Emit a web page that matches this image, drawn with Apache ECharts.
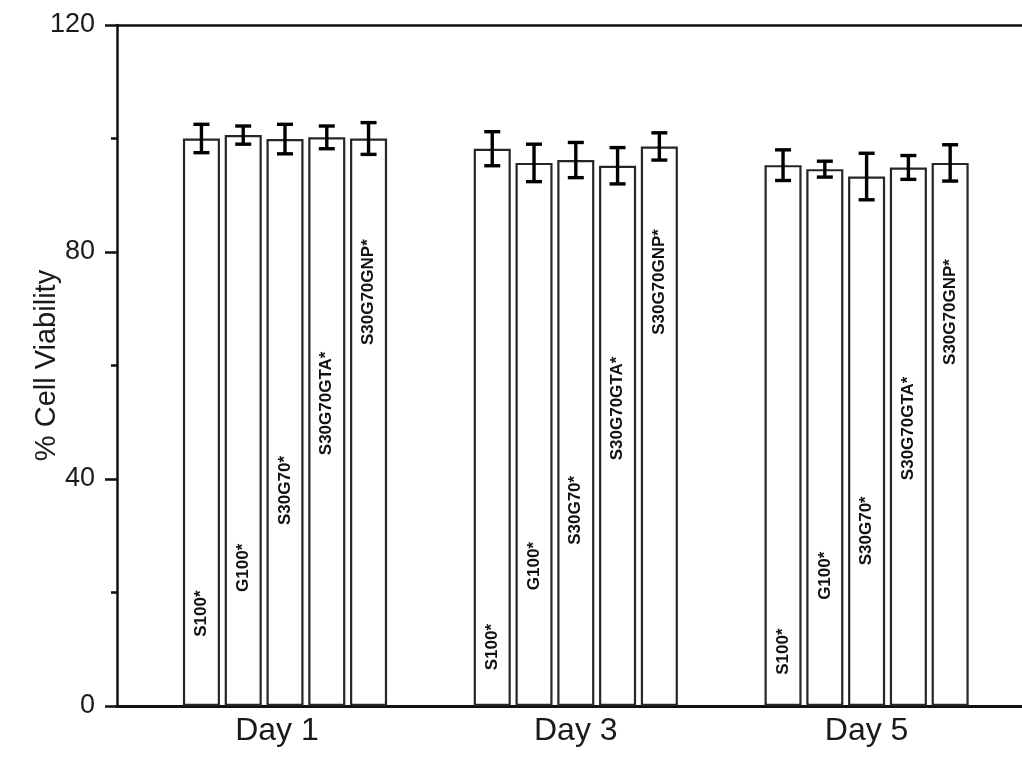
<!DOCTYPE html>
<html>
<head>
<meta charset="utf-8">
<title>% Cell Viability</title>
<script src="https://cdn.jsdelivr.net/npm/echarts@6/dist/echarts.min.js"></script>
<style>
  html, body { margin: 0; padding: 0; background: #ffffff; }
  #chart { width: 1022px; height: 762px; }
</style>
</head>
<body>
<div id="chart"></div>
<script>
// Sampling days (x categories)
const days = ['Day 1', 'Day 3', 'Day 5'];
// Scaffold formulations, one bar per formulation in each day group
const materials = ['S100*', 'G100*', 'S30G70*', 'S30G70GTA*', 'S30G70GNP*'];

// Mean % cell viability per formulation, listed Day 1, Day 3, Day 5
const s100Mean = [100.0, 98.2, 95.3];
const g100Mean = [100.6, 95.7, 94.6];
const s30g70Mean = [99.9, 96.2, 93.3];
const gtaMean = [100.2, 95.2, 94.9];
const gnpMean = [100.0, 98.6, 95.7];

// Standard deviations (error bars), same order
const s100Sd = [2.5, 3.0, 2.7];
const g100Sd = [1.6, 3.3, 1.4];
const s30g70Sd = [2.6, 3.1, 4.1];
const gtaSd = [2.0, 3.2, 2.1];
const gnpSd = [2.8, 2.4, 3.2];

// Y axis tick values
const yTicks = [0, 40, 80, 120];

const means = [s100Mean, g100Mean, s30g70Mean, gtaMean, gnpMean];
const sds = [s100Sd, g100Sd, s30g70Sd, gtaSd, gnpSd];

// Where each rotated bar label starts, on the viability scale (layout only)
const LABEL_START = [
  [12.2, 6.3, 5.5],
  [20.1, 20.4, 18.7],
  [31.9, 28.4, 24.8],
  [44.2, 43.3, 39.8],
  [63.6, 65.4, 60.1]
];

const CAT_GAP = 0.298;   // barCategoryGap as a fraction of the band
const BAR_GAP = 0.128;   // barGap as a fraction of bar width
const FONT = '"Liberation Sans", Arial, Helvetica, sans-serif';

const barSeries = materials.map((name, m) => ({
  name: name,
  type: 'bar',
  xAxisIndex: 1,
  yAxisIndex: 1,
  barGap: (BAR_GAP * 100) + '%',
  barCategoryGap: (CAT_GAP * 100) + '%',
  itemStyle: { color: '#ffffff', borderColor: '#262626', borderWidth: 2.2 },
  data: means[m].map((v, d) => ({
    value: v,
    label: {
      show: true,
      formatter: name,
      position: ['50%', ((1 - LABEL_START[m][d] / v) * 100).toFixed(2) + '%'],
      rotate: 90,
      align: 'left',
      verticalAlign: 'middle',
      fontFamily: FONT,
      fontWeight: 'bold',
      fontSize: 17,
      color: '#111'
    }
  })),
  silent: true,
  z: 2
}));

// One error bar per (day, formulation)
const errData = [];
days.forEach((_, d) => {
  materials.forEach((__, m) => {
    errData.push([d, m, means[m][d], sds[m][d]]);
  });
});

const errorSeries = {
  type: 'custom',
  xAxisIndex: 1,
  yAxisIndex: 1,
  z: 5,
  silent: true,
  data: errData,
  renderItem: function (params, api) {
    const band = api.size([1, 0])[0];
    const n = materials.length;
    const bw = band * (1 - CAT_GAP) / (n + (n - 1) * BAR_GAP);
    const cx = api.coord([api.value(0), 0])[0] + (api.value(1) - (n - 1) / 2) * bw * (1 + BAR_GAP);
    const mean = api.value(2), sd = api.value(3);
    const yHi = api.coord([api.value(0), mean + sd])[1];
    const yLo = api.coord([api.value(0), mean - sd])[1];
    const cap = 8;
    const style = { stroke: '#000', lineWidth: 3.4, fill: null };
    return {
      type: 'group',
      children: [
        { type: 'line', shape: { x1: cx, y1: yHi, x2: cx, y2: yLo }, style: style },
        { type: 'line', shape: { x1: cx - cap, y1: yHi, x2: cx + cap, y2: yHi }, style: style },
        { type: 'line', shape: { x1: cx - cap, y1: yLo, x2: cx + cap, y2: yLo }, style: style }
      ]
    };
  }
};

const chart = echarts.init(document.getElementById('chart'), null, { renderer: 'canvas' });

chart.setOption({
  animation: false,
  backgroundColor: '#ffffff',
  grid: [
    // frame grid: axis lines, y ticks and the top border
    { left: 117, right: -6, top: 25, bottom: 56 },
    // data grid: grouped bars and error bars
    { left: 139.6, right: 10, top: 25, bottom: 56 }
  ],
  xAxis: [
    {
      gridIndex: 0, type: 'value', min: 0, max: 1, position: 'bottom',
      axisLine: { show: true, lineStyle: { color: '#111', width: 3 } },
      axisTick: { show: false }, axisLabel: { show: false }, splitLine: { show: false }
    },
    {
      gridIndex: 1, type: 'category', position: 'bottom',
      data: days.map((d, i) => i === 0
        ? { value: d, textStyle: { padding: [0, 16, 0, 0] } }
        : d),
      axisLine: { show: false }, axisTick: { show: false }, splitLine: { show: false },
      axisLabel: { fontFamily: FONT, fontSize: 32, color: '#1a1a1a', margin: 9 }
    },
    {
      gridIndex: 0, type: 'value', min: 0, max: 1, position: 'top',
      axisLine: { show: true, lineStyle: { color: '#111', width: 2.5 } },
      axisTick: { show: false }, axisLabel: { show: false }, splitLine: { show: false }
    }
  ],
  yAxis: [
    {
      gridIndex: 0, type: 'value',
      min: yTicks[0], max: yTicks[yTicks.length - 1], interval: yTicks[1] - yTicks[0],
      name: '% Cell Viability', nameLocation: 'middle', nameGap: 56,
      nameMoveOverlap: false,
      nameTextStyle: { fontFamily: FONT, fontSize: 29, color: '#1a1a1a' },
      axisLine: { show: true, lineStyle: { color: '#111', width: 2.5 } },
      axisTick: { show: true, inside: false, length: 12, lineStyle: { color: '#111', width: 2.5 } },
      minorTick: { show: true, splitNumber: 2, length: 6, lineStyle: { color: '#111', width: 2.5 } },
      axisLabel: { fontFamily: FONT, fontSize: 27, color: '#1a1a1a', margin: 22 },
      splitLine: { show: false }
    },
    {
      gridIndex: 1, type: 'value',
      min: yTicks[0], max: yTicks[yTicks.length - 1],
      show: false, splitLine: { show: false }
    }
  ],
  series: barSeries.concat([errorSeries])
});
</script>
</body>
</html>
